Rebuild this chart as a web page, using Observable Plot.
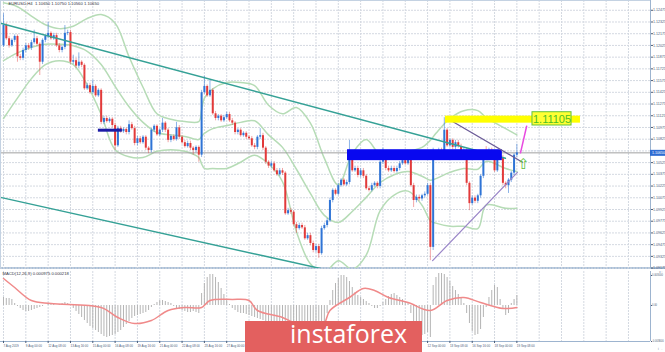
<!DOCTYPE html>
<html><head><meta charset="utf-8">
<script src="https://cdn.jsdelivr.net/npm/d3@7"></script>
<script src="https://cdn.jsdelivr.net/npm/@observablehq/plot@0.6"></script>
<style>
html,body{margin:0;padding:0;background:#fff}
body{width:665px;height:352px;overflow:hidden;position:relative;font-family:"DejaVu Sans",sans-serif}
#main{position:absolute;left:0;top:0}
#macd{position:absolute;left:0;top:268px}
#main svg,#macd svg{overflow:visible}
#sep{position:absolute;left:0;top:267px;width:665px;height:2px;background:#a9bfd8}
#wm{position:absolute;left:245px;top:321px;width:177px;height:31px;background:#e3605f}
#wm svg{position:absolute;left:0;top:-8px;overflow:visible}
</style></head><body>
<div id="sep"></div><div id="main"></div><div id="macd"></div>
<div id="wm"><svg width="177" height="40"><text x="45" y="30" fill="#fff" font-family="Open Sans" font-size="25">instaforex</text></svg></div>
<script>
// ---- data (EURUSD H4) ----
const open0 = 1.1202;
const close = [1.1228,1.1211,1.1202,1.1209,1.1214,1.1188,1.1186,1.1196,1.1202,1.1199,
1.1206,1.1211,1.1204,1.1181,1.1209,1.1214,1.1218,1.1211,1.1215,1.1202,
1.1196,1.1200,1.1218,1.1219,1.1181,1.1183,1.1176,1.1181,1.1177,1.1147,
1.1151,1.1142,1.1150,1.1138,1.1145,1.1104,1.1109,1.1105,1.1108,1.1100,
1.1074,1.1096,1.1092,1.1095,1.1091,1.1101,1.1096,1.1077,1.1083,1.1078,
1.1085,1.1071,1.1068,1.1094,1.1099,1.1088,1.1094,1.1103,1.1094,1.1081,
1.1086,1.1082,1.1097,1.1085,1.1078,1.1073,1.1077,1.1071,1.1068,1.1072,
1.1062,1.1142,1.1150,1.1138,1.1145,1.1115,1.1109,1.1112,1.1106,1.1110,
1.1114,1.1106,1.1103,1.1091,1.1094,1.1087,1.1090,1.1085,1.1083,1.1074,
1.1072,1.1085,1.1087,1.1071,1.1053,1.1048,1.1051,1.1042,1.1037,1.1042,
1.1039,1.0987,1.0991,1.0989,1.0973,1.0968,1.0972,1.0969,1.0955,1.0959,
1.0949,1.0940,1.0945,1.0936,1.0968,1.0972,1.0978,1.1004,1.1017,1.1012,
1.1023,1.1030,1.1024,1.1027,1.1065,1.1042,1.1045,1.1036,1.1042,1.1035,
1.1019,1.1017,1.1023,1.1026,1.1022,1.1053,1.1063,1.1045,1.1042,1.1045,
1.1041,1.1045,1.1051,1.1055,1.1051,1.1058,1.1023,1.1004,1.1008,1.1006,
1.1010,1.1012,1.1023,1.0944,1.1065,1.1062,1.1068,1.1064,1.1094,1.1074,
1.1081,1.1072,1.1078,1.1073,1.1062,1.1068,1.1026,1.1000,1.1007,1.1003,
1.1010,1.1035,1.1065,1.1063,1.1068,1.1064,1.1042,1.1062,1.1059,1.1026,
1.1023,1.1030,1.1039,1.1062,1.1065];
const high = [1.1243,1.1231,1.1214,1.1211,1.1216,1.1216,1.1191,1.1199,1.1205,1.1205,
1.1209,1.1222,1.1214,1.1206,1.1211,1.1216,1.1232,1.1220,1.1218,1.1218,
1.1205,1.1202,1.1228,1.1222,1.1222,1.1190,1.1186,1.1193,1.1183,1.1179,
1.1154,1.1154,1.1158,1.1152,1.1147,1.1147,1.1112,1.1112,1.1110,1.1110,
1.1103,1.1099,1.1099,1.1097,1.1097,1.1106,1.1104,1.1099,1.1086,1.1086,
1.1087,1.1087,1.1073,1.1096,1.1101,1.1101,1.1096,1.1109,1.1105,1.1096,
1.1088,1.1088,1.1104,1.1100,1.1087,1.1081,1.1080,1.1080,1.1073,1.1074,
1.1074,1.1145,1.1163,1.1152,1.1158,1.1147,1.1118,1.1114,1.1114,1.1113,
1.1117,1.1117,1.1109,1.1105,1.1096,1.1096,1.1092,1.1092,1.1087,1.1086,
1.1077,1.1087,1.1096,1.1090,1.1073,1.1055,1.1054,1.1054,1.1045,1.1045,
1.1045,1.1041,1.0994,1.0994,1.0991,1.0976,1.0975,1.0975,1.0972,1.0962,
1.0962,1.0952,1.0948,1.0948,1.0971,1.0975,1.0981,1.1007,1.1019,1.1019,
1.1026,1.1032,1.1032,1.1030,1.1081,1.1068,1.1048,1.1048,1.1045,1.1045,
1.1037,1.1022,1.1026,1.1028,1.1028,1.1055,1.1071,1.1065,1.1048,1.1048,
1.1048,1.1048,1.1054,1.1058,1.1058,1.1064,1.1060,1.1026,1.1011,1.1011,
1.1012,1.1015,1.1026,1.1026,1.1071,1.1068,1.1071,1.1071,1.1110,1.1096,
1.1083,1.1083,1.1081,1.1081,1.1076,1.1071,1.1071,1.1028,1.1010,1.1010,
1.1012,1.1037,1.1068,1.1073,1.1071,1.1071,1.1067,1.1064,1.1064,1.1062,
1.1028,1.1032,1.1041,1.1064,1.1076];
const low = [1.1200,1.1209,1.1199,1.1200,1.1206,1.1181,1.1183,1.1183,1.1193,1.1196,
1.1196,1.1204,1.1201,1.1164,1.1178,1.1206,1.1211,1.1209,1.1209,1.1200,
1.1193,1.1193,1.1197,1.1215,1.1178,1.1178,1.1173,1.1173,1.1174,1.1145,
1.1145,1.1140,1.1140,1.1136,1.1136,1.1101,1.1101,1.1103,1.1103,1.1097,
1.1068,1.1072,1.1090,1.1090,1.1088,1.1088,1.1094,1.1074,1.1074,1.1076,
1.1076,1.1068,1.1064,1.1065,1.1091,1.1086,1.1086,1.1091,1.1091,1.1078,
1.1078,1.1080,1.1080,1.1082,1.1076,1.1071,1.1071,1.1068,1.1062,1.1065,
1.1053,1.1059,1.1140,1.1136,1.1136,1.1113,1.1106,1.1106,1.1104,1.1104,
1.1108,1.1104,1.1100,1.1088,1.1088,1.1085,1.1085,1.1082,1.1081,1.1072,
1.1069,1.1069,1.1082,1.1068,1.1050,1.1045,1.1045,1.1040,1.1035,1.1035,
1.1036,1.0985,1.0985,1.0986,1.0971,1.0962,1.0966,1.0967,1.0953,1.0953,
1.0946,1.0937,1.0937,1.0930,1.0934,1.0966,1.0969,1.0976,1.1001,1.1010,
1.1010,1.1021,1.1022,1.1022,1.1024,1.1040,1.1040,1.1033,1.1033,1.1032,
1.1017,1.1015,1.1015,1.1021,1.1019,1.1019,1.1050,1.1042,1.1040,1.1040,
1.1039,1.1039,1.1042,1.1049,1.1049,1.1049,1.1021,1.0995,1.1001,1.1003,
1.1003,1.1007,1.1010,1.0927,1.0940,1.1059,1.1059,1.1062,1.1062,1.1072,
1.1072,1.1069,1.1069,1.1071,1.1059,1.1059,1.1023,1.0991,1.0998,1.1000,
1.1000,1.1007,1.1032,1.1060,1.1060,1.1062,1.1040,1.1040,1.1056,1.1023,
1.1019,1.1013,1.1027,1.1036,1.1059];
// Bollinger bands read at sample bars
const bbIdx = [0,5,10,15,20,25,30,35,40,45,50,55,60,65,70,71,72,75,80,85,90,95,100,105,110,115,120,125,130,135,140,145,150,153,155,160,165,170,173,180,184];
const bbUp  = [1.1257,1.1252,1.1240,1.1229,1.1224,1.1227,1.1237,1.1242,1.1231,1.1188,1.1149,1.1115,1.1108,1.1105,1.1105,1.1120,1.1135,1.1147,1.1155,1.1155,1.1151,1.1126,1.1115,1.1123,1.1103,1.1058,1.1024,1.1064,1.1082,1.1063,1.1064,1.1067,1.1072,1.1081,1.1090,1.1109,1.1119,1.1119,1.1110,1.1096,1.1088];
const bbMid = [1.1183,1.1193,1.1200,1.1204,1.1204,1.1202,1.1195,1.1178,1.1150,1.1124,1.1104,1.1091,1.1088,1.1086,1.1082,1.1086,1.1090,1.1096,1.1100,1.1104,1.1106,1.1088,1.1072,1.1044,1.1013,1.0985,1.0976,1.0990,1.1008,1.1027,1.1037,1.1041,1.1035,1.1030,1.1032,1.1040,1.1045,1.1044,1.1054,1.1045,1.1041];
const bbLo  = [1.1109,1.1135,1.1160,1.1178,1.1183,1.1178,1.1152,1.1114,1.1069,1.1060,1.1059,1.1067,1.1069,1.1067,1.1059,1.1051,1.1045,1.1045,1.1045,1.1053,1.1062,1.1051,1.1028,1.0964,1.0923,1.0912,1.0927,1.0916,1.0934,1.0991,1.1011,1.1016,1.0998,1.0978,1.0975,1.0971,1.0971,1.0968,1.0998,1.0994,1.0994];
// MACD(12,26,9)
const macdHist = [0.0008,0.0007,0.0007,0.0006,
0.0002,-0.0001,-0.0003,-0.0005,-0.0006,-0.0006,-0.0005,-0.0004,-0.0003,
-0.0002,-0.0001,0,0.0001,0.0002,0.0001,0,
0.0001,0.0002,0.0003,0.0002,0.0001,
-0.0003,-0.0006,-0.0009,-0.0012,-0.0015,-0.0018,-0.0021,
-0.0023,-0.0025,-0.0027,-0.0029,-0.0031,-0.0032,-0.0031,-0.0030,-0.0029,-0.0027,-0.0025,
-0.0022,-0.0019,-0.0016,-0.0013,-0.0011,-0.0010,-0.0009,-0.0008,-0.0007,-0.0005,
-0.0002,0.0001,0.0003,0.0005,0.0005,0.0004,0.0003,0.0002,
-0.0001,-0.0003,-0.0004,-0.0005,-0.0006,-0.0007,-0.0007,-0.0006,-0.0007,-0.0008,
0.0012,0.0022,0.0028,0.0031,0.0031,0.0028,
0.0023,0.0017,0.0011,0.0006,
0.0001,-0.0003,-0.0005,-0.0007,-0.0008,-0.0008,-0.0009,
-0.0010,-0.0011,-0.0012,-0.0013,-0.0014,-0.0015,-0.0016,-0.0018,-0.0020,-0.0022,-0.0024,-0.0026,-0.0028,
-0.0030,-0.0032,-0.0034,-0.0035,-0.0036,-0.0038,-0.0039,-0.0040,-0.0041,-0.0042,-0.0042,-0.0041,-0.0038,
-0.0030,-0.0020,-0.0008,0.0005,
0.0015,0.0022,0.0027,0.0030,0.0030,0.0028,0.0024,
0.0018,0.0013,0.0010,0.0008,0.0006,0.0004,0.0002,
-0.0001,-0.0003,-0.0003,-0.0001,
0.0003,0.0006,0.0009,0.0011,0.0012,0.0010,0.0008,0.0006,0.0004,0.0002,
-0.0008,-0.0016,-0.0024,-0.0029,-0.0030,-0.0029,-0.0027,-0.0032,
0.0020,0.0028,0.0032,0.0032,0.0031,0.0028,
0.0024,0.0019,0.0015,0.0011,0.0007,0.0002,
-0.0008,-0.0018,-0.0026,-0.0030,-0.0029,-0.0024,
-0.0012,-0.0002,0.0008,0.0015,0.0020,0.0018,
0.0006,-0.0004,-0.0010,-0.0008,
0.0002,0.0006,0.0010];
const sigIdx = [0,4,10,17,35,41,47,53,59,65,71,74,82,88,91,100,106,112,115,117,124,129,133,138,145,153,159,165,171,179,184];
const sigVal = [0.0027,0.0018,0.0005,0.0002,-0.0002,-0.0012,-0.0018,-0.0015,-0.0005,-0.0002,-0.0002,0.0005,0.0006,0.0005,-0.0005,-0.0012,-0.0020,-0.0025,-0.0018,-0.0005,0.0008,0.0017,0.0015,0.0008,0.0003,-0.0005,0.0005,0.0008,0.0003,-0.0003,-0.0002];
// axis ticks
const priceTicks = [1.12475,1.12325,1.12175,1.12025,1.11875,1.11725,1.11575,1.11425,1.11275,1.11125,1.10975,1.10825,1.10675,1.10525,1.10375,1.10225,1.10075,1.09925,1.09775,1.09625,1.09475,1.09325,1.09175];
const dateLabels = ["7 Aug 2019","9 Aug 00:00","12 Aug 08:00","13 Aug 16:00","15 Aug 00:00","16 Aug 08:00","19 Aug 16:00","21 Aug 00:00","22 Aug 08:00","23 Aug 16:00","27 Aug 00:00","28 Aug 08:00","29 Aug 16:00","2 Sep 00:00","3 Sep 08:00","4 Sep 16:00","6 Sep 00:00","9 Sep 08:00","10 Sep 16:00","12 Sep 00:00","13 Sep 08:00","16 Sep 16:00","18 Sep 00:00","19 Sep 08:00"];
const macdTicks = [0.0030, 0, -0.0036];
// drawn objects (bar index, price)
const chanTop = [{i:-1.08,p:1.1231},{i:179.9,p:1.1058}];
const chanBot = [{i:-1.08,p:1.1008},{i:113.6,p:1.0917}];
const zone = {i1:123.3, i2:178.8, p1:1.1069, p2:1.1055};
const oldLevel = {i1:34.0, i2:42.6, p:1.1094};
const triUp = [{i:159.1,p:1.1109},{i:186.0,p:1.1053}];
const triLo = [{i:153.8,p:1.0927},{i:184.2,p:1.1040}];
const target = {i1:158.4, i2:206.8, p1:1.1112, p2:1.1103, bi1:189.6, bi2:203.6, bp1:1.1117, bp2:1.1100, ti:196.6, tp:1.11083, label:"1.11105"};
const pinkArrow = [{i:185.3,p:1.1065},{i:187.5,p:1.1099}];
const upArrow = {i:186.4, p:1.1050};

// ---- build ----
const xDom = [-1.08, 231.9];
const yDom = [1.091696, 1.126];
const N = close.length;
const candles = close.map((c,i)=>({i, o: i ? close[i-1] : open0, c, h: high[i], l: low[i]}));
const ups = candles.filter(d=>d.c>=d.o), downs = candles.filter(d=>d.c<d.o);
const bb = bbIdx.map((i,k)=>({i, u:bbUp[k], m:bbMid[k], l:bbLo[k]}));
const gridX = d3.range(0, 232, 8);
const dateIdx = dateLabels.map((_,k)=>k*8);
// ticks whose labels sit under the opaque watermark are not drawn (invisible in the reference)
const visDateIdx = dateIdx.filter(i => { const px = (i - xDom[0]) * 650 / (xDom[1] - xDom[0]); return px < 240 || px > 424; });
const last = close[N-1];
// the price label hidden behind the current-price box is not drawn
const labelTicks = priceTicks.filter(p => Math.abs(p - last) > 0.0004);
const BULL = "#2f74d6", BEAR = "#e23a3a", GRID = "#d4d9e1", FRAME = "#9db4cf", BBC = "#b6dcb6";
const AX = "Liberation Sans";

const main = Plot.plot({
  width: 665, height: 268, marginTop: 0, marginBottom: 0, marginLeft: 0, marginRight: 15,
  x: {domain: xDom, axis: null},
  y: {domain: yDom, axis: null},
  style: {background: "transparent", fontFamily: AX, fontSize: "4px", color: "#4a5c78"},
  marks: [
    Plot.ruleY(priceTicks, {stroke: GRID, strokeDasharray: "2,1"}),
    Plot.ruleX(gridX, {stroke: GRID, strokeDasharray: "2,1"}),
    Plot.line(bb, {x:"i", y:"u", stroke:BBC, curve:"catmull-rom", clip:true}),
    Plot.line(bb, {x:"i", y:"m", stroke:BBC, curve:"catmull-rom", clip:true}),
    Plot.line(bb, {x:"i", y:"l", stroke:BBC, curve:"catmull-rom", clip:true}),
    Plot.ruleY([last], {stroke:"#a0a0a0"}),
    Plot.ruleX(ups, {x:"i", y1:"l", y2:"h", stroke:BULL, strokeOpacity:0.55}),
    Plot.ruleX(downs, {x:"i", y1:"l", y2:"h", stroke:BEAR, strokeOpacity:0.45}),
    Plot.ruleX(ups, {x:"i", y1:"o", y2:"c", stroke:BULL, strokeWidth:2}),
    Plot.ruleX(downs, {x:"i", y1:"o", y2:"c", stroke:BEAR, strokeWidth:2}),
    Plot.line(chanTop, {x:"i", y:"p", stroke:"#35a196", strokeWidth:1.5, clip:true}),
    Plot.line(chanBot, {x:"i", y:"p", stroke:"#35a196", strokeWidth:1.5, clip:true}),
    Plot.rect([zone], {x1:"i1", x2:"i2", y1:"p1", y2:"p2", fill:"#0808f0"}),
    Plot.ruleY([oldLevel], {y:"p", x1:"i1", x2:"i2", stroke:"#1c1ca6", strokeWidth:3}),
    Plot.line(triUp, {x:"i", y:"p", stroke:"#6c5c98", strokeWidth:1.2}),
    Plot.line(triLo, {x:"i", y:"p", stroke:"#9a86c8", strokeWidth:1.2}),
    Plot.rect([target], {x1:"i1", x2:"i2", y1:"p1", y2:"p2", fill:"#ffff00"}),
    Plot.rect([target], {x1:"bi1", x2:"bi2", y1:"bp1", y2:"bp2", fill:"#ffff33", stroke:"#62c23c", strokeWidth:1}),
    Plot.text([target], {x:"ti", y:"tp", text:"label", fill:"#4cbf24", fontSize:11, fontFamily:"Liberation Sans"}),
    Plot.line(pinkArrow, {x:"i", y:"p", stroke:"#e84ae0", strokeWidth:1.5}),
    Plot.text([upArrow], {x:"i", y:"p", text:()=>"\u21E7", fill:"#5cc03a", fontSize:15, fontFamily:"DejaVu Sans"}),
    Plot.ruleX([xDom[1]], {stroke: FRAME}),
    Plot.ruleX([xDom[0]], {stroke: "#c4d2e2"}),
    Plot.ruleY([yDom[1]], {stroke: "#c4d2e2"}),
    Plot.axisY(labelTicks, {anchor:"right", tickSize:2, tickPadding:0.5, tickFormat:d=>d.toFixed(5), fontSize:3.6}),
    Plot.ruleY([last], {x1:xDom[1], x2:xDom[1]+5.4, stroke:"#2e6bd2", strokeWidth:6}),
    Plot.text([last], {x:xDom[1], y:d=>d, text:d=>d.toFixed(5), textAnchor:"start", dx:1.5, fill:"#fff", fontSize:3.6}),
    Plot.text(["EURUSD,H4  1.10650 1.10750 1.10560 1.10650"], {frameAnchor:"top-left", dx:8, dy:2, fontSize:4.2, fill:"#334"})
  ]
});
document.getElementById("main").appendChild(main);

const hist = macdHist.map((v,i)=>({i, v}));
const sig = sigIdx.map((i,k)=>({i, v: sigVal[k]}));
const macd = Plot.plot({
  width: 665, height: 84, marginTop: 3, marginBottom: 11, marginLeft: 0, marginRight: 15,
  x: {domain: xDom, axis: null},
  y: {domain: [-0.0036, 0.0034], axis: null},
  style: {background: "transparent", fontFamily: AX, fontSize: "4px", color: "#4a5c78"},
  marks: [
    Plot.ruleX(gridX, {stroke: GRID, strokeDasharray: "2,1"}),
    Plot.ruleX(hist, {x:"i", y1:0, y2:"v", stroke:"#b4b4b4", clip:true}),
    Plot.line(sig, {x:"i", y:"v", stroke:"#f08a8a", curve:"catmull-rom", clip:true}),
    Plot.ruleY([-0.0036], {stroke: FRAME}),
    Plot.ruleX([xDom[1]], {stroke: FRAME}),
    Plot.axisY(macdTicks, {anchor:"right", tickSize:1, tickPadding:0.5, tickFormat:d=> d===0 ? "0.00" : d.toFixed(6), fontSize:2.6}),
    Plot.axisX(visDateIdx, {anchor:"bottom", tickSize:2, tickPadding:1, tickFormat:d=>dateLabels[Math.round(d/8)], textAnchor:"start", fontSize:3}),
    Plot.text(["MACD(12,26,9) 0.000975 0.000218"], {frameAnchor:"top-left", dx:2, dy:1, fontSize:4.2, fill:"#334"})
  ]
});
document.getElementById("macd").appendChild(macd);
</script>
</body></html>
